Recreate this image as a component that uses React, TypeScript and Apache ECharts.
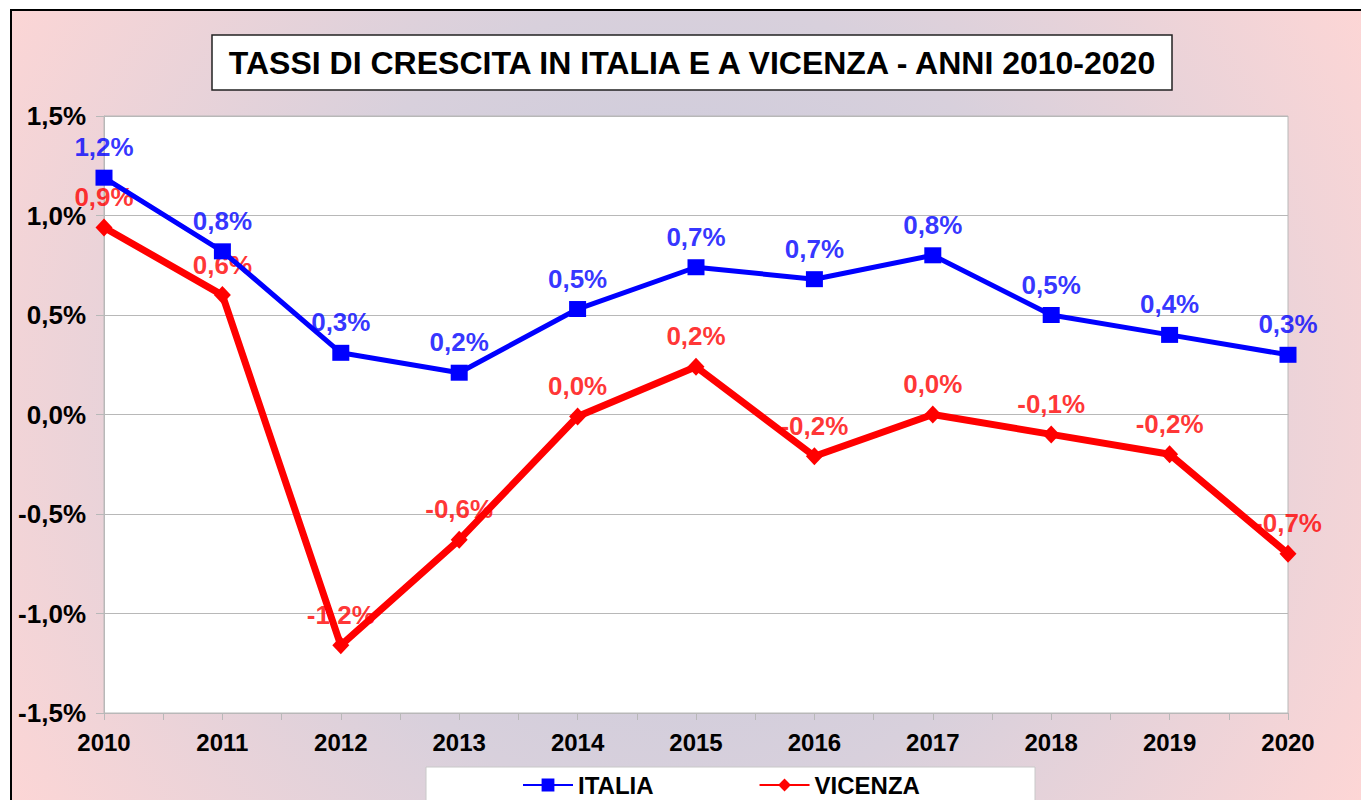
import React, { useEffect, useRef } from "react";
import * as echarts from "echarts";

const years = ["2010", "2011", "2012", "2013", "2014", "2015", "2016", "2017", "2018", "2019", "2020"];
const italia = [1.19, 0.82, 0.31, 0.21, 0.53, 0.74, 0.68, 0.8, 0.5, 0.4, 0.3];
const vicenza = [0.94, 0.6, -1.16, -0.63, -0.01, 0.24, -0.21, 0.0, -0.1, -0.2, -0.7];
const titleText = "TASSI DI CRESCITA IN ITALIA E A VICENZA - ANNI 2010-2020";

const FONT = "Liberation Sans, Arial, sans-serif";

function fmt(v: number): string {
  let s = (Math.round(v * 10) / 10).toFixed(1);
  if (s === "-0.0") s = "0.0";
  return s.replace(".", ",") + "%";
}

export default function App() {
  const ref = useRef<HTMLDivElement>(null);
  useEffect(() => {
    document.body.style.margin = "0";
    const chart = echarts.init(ref.current!, null, { renderer: "svg" });
    const labelStyle = (color: string) => ({
      show: true,
      position: "top" as const,
      distance: 17,
      color,
      fontFamily: FONT,
      fontWeight: "bold" as const,
      fontSize: 26,
      formatter: (p: any) => fmt(p.value),
    });
    chart.setOption({
      animation: false,
      backgroundColor: "#ffffff",
      graphic: [
        {
          type: "rect",
          z: -100,
          silent: true,
          shape: { x: 11, y: 10, width: 1360, height: 800 },
          style: {
            fill: new echarts.graphic.RadialGradient(680, 400, 800, [
              { offset: 0, color: "#c5c8db" },
              { offset: 0.5, color: "#d8d0dc" },
              { offset: 1, color: "#fed6d5" },
            ], true),
            stroke: "#000000",
            lineWidth: 2,
          },
        },
        {
          type: "rect",
          z: 10,
          silent: true,
          shape: { x: 212, y: 35, width: 960, height: 55 },
          style: { fill: "#ffffff", stroke: "#222222", lineWidth: 1.5 },
        },
        {
          type: "text",
          z: 11,
          silent: true,
          x: 692,
          y: 63,
          style: {
            text: titleText,
            align: "center",
            verticalAlign: "middle",
            fill: "#000000",
            font: "bold 32px " + FONT,
          },
        },
        {
          type: "rect",
          z: 10,
          silent: true,
          shape: { x: 426, y: 767, width: 609, height: 60 },
          style: { fill: "#ffffff", stroke: "#c8c8c8", lineWidth: 1 },
        },
      ],
      legend: {
        data: ["ITALIA", "VICENZA"],
        left: 522,
        top: 773,
        padding: 0,
        z: 20,
        itemWidth: 50,
        itemHeight: 16,
        itemGap: 105,
        textStyle: { color: "#000000", fontFamily: FONT, fontWeight: "bold", fontSize: 24 },
      },
      grid: {
        left: 104,
        right: 73,
        top: 116,
        bottom: 87,
        show: true,
        backgroundColor: "#ffffff",
        borderColor: "#b8b8b8",
        borderWidth: 1,
      },
      xAxis: [
        {
          type: "category",
          data: years,
          boundaryGap: false,
          axisLine: { show: true, lineStyle: { color: "#b8b8b8", width: 1 } },
          axisTick: { show: false },
          axisLabel: {
            color: "#000000",
            fontFamily: FONT,
            fontWeight: "bold",
            fontSize: 24,
            margin: 17,
          },
          splitLine: { show: false },
        },
        {
          type: "value",
          min: 0,
          max: 10,
          interval: 0.5,
          position: "bottom",
          axisLine: { show: false },
          axisTick: { show: true, length: 7, lineStyle: { color: "#b8b8b8", width: 1 } },
          axisLabel: { show: false },
          splitLine: { show: false },
        },
      ],
      yAxis: {
        type: "value",
        min: -1.5,
        max: 1.5,
        interval: 0.5,
        axisLine: { show: true, lineStyle: { color: "#b8b8b8", width: 1 } },
        axisTick: { show: true, length: 8, lineStyle: { color: "#b8b8b8", width: 1 } },
        axisLabel: {
          color: "#000000",
          fontFamily: FONT,
          fontWeight: "bold",
          fontSize: 26,
          margin: 18,
          formatter: (v: number) => fmt(v),
        },
        splitLine: { show: true, lineStyle: { color: "#b8b8b8", width: 1 } },
      },
      series: [
        {
          name: "ITALIA-labels",
          type: "scatter",
          xAxisIndex: 0,
          z: 1,
          data: italia,
          symbolSize: 1,
          itemStyle: { color: "rgba(0,0,0,0)" },
          label: labelStyle("#0000ff"),
          silent: true,
        },
        {
          name: "VICENZA-labels",
          type: "scatter",
          xAxisIndex: 0,
          z: 1,
          data: vicenza,
          symbolSize: 1,
          itemStyle: { color: "rgba(0,0,0,0)" },
          label: labelStyle("#ff0000"),
          silent: true,
        },
        {
          name: "ITALIA",
          type: "line",
          xAxisIndex: 0,
          z: 5,
          data: italia,
          symbol: "rect",
          symbolSize: [17, 16],
          showAllSymbol: true,
          lineStyle: { color: "#0000ff", width: 5 },
          itemStyle: { color: "#0000ff" },
        },
        {
          name: "VICENZA",
          type: "line",
          xAxisIndex: 0,
          z: 4,
          data: vicenza,
          symbol: "diamond",
          symbolSize: [17, 18],
          showAllSymbol: true,
          lineStyle: { color: "#ff0000", width: 7 },
          itemStyle: { color: "#ff0000" },
        },
      ],
    });
    return () => chart.dispose();
  }, []);
  return <div ref={ref} style={{ width: 1361, height: 800 }} />;
}
